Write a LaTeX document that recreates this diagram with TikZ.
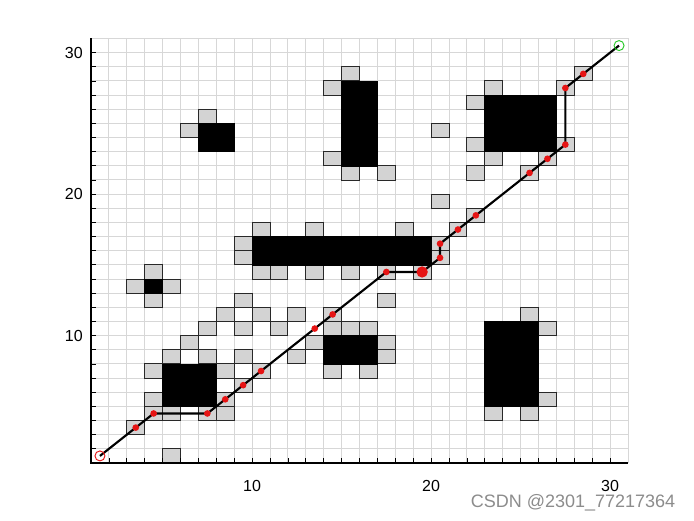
\documentclass[tikz,border=0pt]{standalone}
\usepackage{fontspec}
\setmainfont{Liberation Sans}
\definecolor{gridgray}{RGB}{215,215,215}
\definecolor{cellgray}{RGB}{211,211,211}
\definecolor{celledge}{RGB}{40,40,40}
\definecolor{dotred}{RGB}{230,20,20}
\definecolor{goalgreen}{RGB}{40,200,40}
\definecolor{wm}{RGB}{140,140,140}
\tikzset{
  gridline/.style={draw=gridgray, line width=0.75pt},
  axisline/.style={draw=black, line width=0.8pt},
  ticklabel/.style={inner sep=0pt, font=\fontsize{12}{14}\selectfont},
  graycell/.style={fill=cellgray, draw=celledge, line width=0.7pt},
  obstacle/.style={fill=black, draw=black, line width=0.5pt},
  route/.style={draw=black, line width=1.6pt},
  waypoint/.style={circle, fill=dotred, inner sep=0pt, minimum size=5pt},
  bigpoint/.style={circle, fill=dotred, inner sep=0pt, minimum size=8.5pt},
  startmark/.style={circle, draw=dotred, line width=0.7pt, inner sep=0pt, minimum size=7.5pt},
  goalmark/.style={circle, draw=goalgreen, line width=0.7pt, inner sep=0pt, minimum size=7.5pt},
}
\begin{document}
\begin{tikzpicture}[x=0.75pt,y=0.75pt]
\useasboundingbox (0,0) rectangle (694,521);
\fill[white] (0,0) rectangle (694,521);
\begin{scope}[shift={(73.1,43.85)}, x=13.425pt, y=10.6125pt]
  % grid
  \foreach \i in {2,...,31} {
    \draw[gridline] (\i,1) -- (\i,31);
    \draw[gridline] (1,\i) -- (31,\i);
  }
  % gray cells
  \foreach \a/\b in {7/25,6/24,
      15/28,14/27,14/22,15/21,17/21,
      20/24,20/19,
      23/27,22/26,22/23,23/22,22/21,26/22,27/23,27/27,28/28,25/21,
      22/18,21/17,20/16,20/15,19/14,
      10/17,13/17,18/17,9/16,9/15,10/14,11/14,13/14,15/14,17/14,
      4/14,3/13,5/13,4/12,
      17/12,
      9/12,
      8/11,10/11,12/11,14/11,25/11,
      7/10,9/10,11/10,14/10,15/10,16/10,26/10,
      6/9,13/9,17/9,
      5/8,7/8,9/8,12/8,17/8,
      4/7,8/7,10/7,14/7,16/7,
      9/6,
      4/5,8/5,26/5,
      4/4,5/4,7/4,8/4,23/4,25/4,
      3/3,
      5/1}
    \draw[graycell] (\a,\b) rectangle ++(1,1);
  % obstacles
  \draw[obstacle] (7,23) rectangle (9,25);
  \draw[obstacle] (15,22) rectangle (17,28);
  \draw[obstacle] (23,23) rectangle (27,27);
  \draw[obstacle] (10,15) rectangle (20,17);
  \draw[obstacle] (4,13) rectangle (5,14);
  \draw[obstacle] (5,5) rectangle (8,8);
  \draw[obstacle] (14,8) rectangle (17,10);
  \draw[obstacle] (23,5) rectangle (26,11);
  % axes
  \coordinate (o) at (1,1);
  \coordinate (xe) at (31,1);
  \coordinate (ye) at (1,31);
  \draw[axisline] (ye) -- (o) -- (xe);
  \foreach \i in {2,...,30} {
    \draw[axisline, line width=0.6pt] (\i,1) -- ++(0pt,3.5pt);
    \draw[axisline, line width=0.6pt] (1,\i) -- ++(3.5pt,0pt);
  }
  \foreach \i in {10,20,30} {
    \node[ticklabel] (xl\i) at ([yshift=-17.25pt]\i,1) {\i};
    \node[ticklabel, anchor=east] (yl\i) at ([xshift=-6pt]1,\i) {\i};
  }
  % route
  \coordinate (p0) at (1.5,1.5);
  \coordinate (p1) at (3.5,3.5);
  \coordinate (p2) at (4.5,4.5);
  \coordinate (p3) at (7.5,4.5);
  \coordinate (p4) at (8.5,5.5);
  \coordinate (p5) at (9.5,6.5);
  \coordinate (p6) at (10.5,7.5);
  \coordinate (p7) at (13.5,10.5);
  \coordinate (p8) at (14.5,11.5);
  \coordinate (p9) at (17.5,14.5);
  \coordinate (p10) at (19.5,14.5);
  \coordinate (p11) at (20.5,15.5);
  \coordinate (p12) at (20.5,16.5);
  \coordinate (p13) at (21.5,17.5);
  \coordinate (p14) at (22.5,18.5);
  \coordinate (p15) at (25.5,21.5);
  \coordinate (p16) at (26.5,22.5);
  \coordinate (p17) at (27.5,23.5);
  \coordinate (p18) at (27.5,27.5);
  \coordinate (p19) at (28.5,28.5);
  \coordinate (p20) at (30.5,30.5);
  \draw[route] (p0) -- (p1) -- (p2) -- (p3) -- (p4) -- (p5) -- (p6) -- (p7) -- (p8) -- (p9) -- (p10) -- (p11) -- (p12) -- (p13) -- (p14) -- (p15) -- (p16) -- (p17) -- (p18) -- (p19) -- (p20);
  \foreach \k in {1,...,9,11,12,13,14,15,16,17,18,19}
    \node[waypoint] (w\k) at (p\k) {};
  \node[bigpoint] (w10) at (p10) {};
  \node[startmark] (start) at (p0) {};
  \node[goalmark] (goal) at (p20) {};
\end{scope}
\node[font=\fontsize{13.5}{15}\selectfont, text=wm, inner sep=0pt] (watermark) at (573,18.5) {CSDN @2301\_77217364};
\end{tikzpicture}
\end{document}
